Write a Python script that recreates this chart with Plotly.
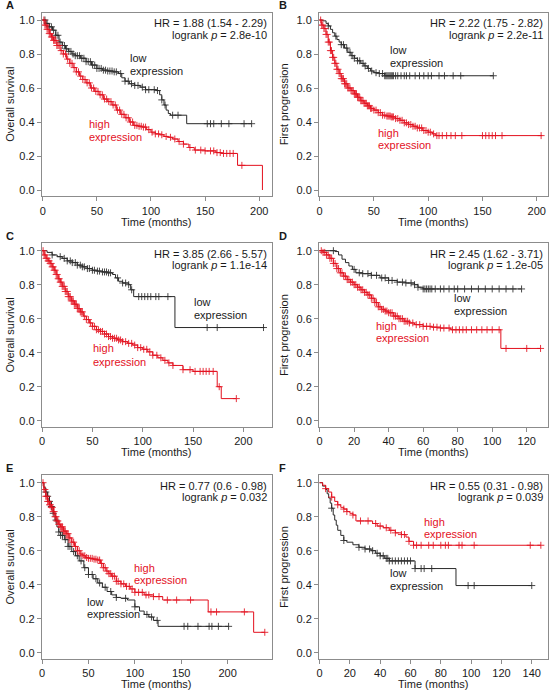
import numpy as np
import plotly.graph_objects as go

W, H = 550, 693
RED = "#e3101e"
BLK = "#2a2a2a"

# ---------------- data ----------------
# Panel A: Overall survival
A_low_t = [0,3,6,9,12,15,18,21,24,27,30,35,40,45,50,55,60,65,70,73,76,80,85,90,95,100,105,108,110,112,114,116,118,133,193]
A_low_s = [1.0,0.98,0.96,0.94,0.91,0.87,0.85,0.83,0.815,0.80,0.79,0.775,0.755,0.735,0.715,0.705,0.70,0.695,0.685,0.66,0.64,0.625,0.615,0.605,0.59,0.59,0.585,0.56,0.53,0.50,0.47,0.45,0.44,0.39,0.39]
A_low_c = [2,4,6,8,10,12,14,16,18,20,22,24,26,28,30,32,34,36,38,40,42,44,46,48,50,52,54,56,58,60,62,64,66,68,72,76,79,82,85,88,92,95,98,103,106,110,113,120,125,152,155,158,165,172,186,193]
A_high_t = [0,2,4,6,8,10,13,16,19,22,25,28,31,34,37,40,44,48,52,56,60,64,68,72,76,80,84,88,92,96,100,104,108,112,116,120,125,130,135,140,150,160,165,180,203]
A_high_s = [1.0,0.97,0.945,0.92,0.90,0.88,0.85,0.82,0.80,0.77,0.745,0.72,0.695,0.67,0.65,0.63,0.60,0.58,0.56,0.535,0.52,0.50,0.47,0.445,0.425,0.40,0.38,0.375,0.37,0.355,0.34,0.33,0.325,0.315,0.31,0.30,0.285,0.27,0.25,0.235,0.23,0.22,0.215,0.145,0.0]
A_high_c = [1,2,3,4,5,6,7,8,9,10,11,12,13,14,15,17,19,21,23,25,27,29,31,33,35,37,39,41,43,45,47,49,51,53,55,57,59,61,63,65,67,69,71,73,75,77,79,81,83,85,87,89,91,93,95,98,101,104,107,110,114,118,122,126,130,136,141,146,150,155,158,161,164,167,170,173,176,184]

# Panel B: First progression
B_low_t = [0,3,6,8,10,12,14,16,18,20,23,26,29,32,35,38,41,44,47,50,55,60,160]
B_low_s = [1.0,0.995,0.98,0.965,0.945,0.925,0.905,0.885,0.87,0.855,0.835,0.81,0.79,0.775,0.76,0.745,0.73,0.715,0.70,0.69,0.685,0.672,0.672]
B_low_c = [8,15,20,22,25,28,30,32,35,37,40,42,45,48,52,55,58,60,61,62,63,64,65,66,67,68,70,72,75,78,80,83,88,92,96,100,103,110,115,123,130,160]
B_high_t = [0,2,4,6,8,10,12,14,16,18,20,23,26,29,32,35,38,41,44,47,50,54,58,62,66,70,74,78,82,86,90,95,100,104,107,205]
B_high_s = [1.0,0.97,0.95,0.915,0.87,0.82,0.78,0.745,0.71,0.685,0.655,0.625,0.60,0.585,0.565,0.545,0.525,0.51,0.495,0.48,0.47,0.455,0.44,0.435,0.43,0.42,0.41,0.395,0.385,0.375,0.365,0.35,0.34,0.33,0.32,0.32]
B_high_c = [1,2,3,4,5,6,7,8,9,10,11,12,13,14,15,16,17,18,19,20,21,22,23,24,25,26,27,28,29,30,31,32,33,34,35,36,37,38,39,40,41,42,43,44,45,46,47,48,50,52,54,56,58,60,62,63,64,65,66,67,68,70,72,74,76,78,80,82,84,86,88,90,92,94,96,98,100,102,105,108,110,113,117,121,125,131,150,153,156,159,162,168,204]

# Panel C: Overall survival
C_low_t = [0,5,10,15,20,25,30,35,40,45,50,55,60,65,70,73,76,80,86,88,91,132,221]
C_low_s = [1.0,0.99,0.975,0.965,0.955,0.94,0.93,0.915,0.905,0.895,0.885,0.88,0.875,0.87,0.86,0.84,0.82,0.81,0.80,0.77,0.73,0.548,0.548]
C_low_c = [10,18,22,25,28,30,33,35,38,40,42,45,47,50,52,55,57,60,62,64,66,68,75,80,83,86,89,96,99,102,105,108,113,116,125,164,174,220]
C_high_t = [0,2,4,6,8,10,12,14,16,18,20,23,26,29,32,35,38,41,44,47,50,54,58,62,66,70,75,80,85,90,95,100,105,110,115,120,125,130,140,150,174,178,193]
C_high_s = [1.0,0.975,0.955,0.94,0.925,0.905,0.885,0.86,0.835,0.815,0.79,0.76,0.73,0.705,0.685,0.66,0.64,0.615,0.595,0.575,0.555,0.535,0.525,0.51,0.495,0.485,0.475,0.465,0.455,0.445,0.43,0.42,0.405,0.385,0.37,0.355,0.34,0.325,0.30,0.29,0.20,0.13,0.13]
C_high_c = [1,2,3,4,5,6,7,8,9,10,11,12,13,14,15,16,17,18,19,20,21,22,23,24,25,26,27,28,29,30,31,32,33,34,35,36,37,38,39,40,42,44,46,48,50,52,54,56,58,60,62,64,66,68,70,72,74,76,78,80,83,86,89,92,95,98,101,104,107,110,114,118,122,126,130,140,147,152,157,160,163,166,170,176,193]

# Panel D: First progression
D_low_t = [0,9,11,13,15,17,19,21,25,30,35,40,45,50,55,57,60,117]
D_low_s = [1.0,0.995,0.975,0.95,0.93,0.91,0.89,0.87,0.865,0.855,0.84,0.825,0.815,0.81,0.80,0.785,0.775,0.775]
D_low_c = [8,20,23,25,28,30,33,36,38,40,42,45,48,50,53,55,57,60,61,62,63,64,65,67,70,72,75,78,80,84,88,92,96,100,104,108,112,117]
D_high_t = [0,2,4,6,8,10,12,14,16,18,20,22,24,26,28,30,32,34,36,38,40,43,46,49,52,55,60,65,70,76,105,128]
D_high_s = [1.0,0.99,0.975,0.955,0.925,0.895,0.87,0.85,0.83,0.815,0.80,0.785,0.77,0.755,0.74,0.72,0.695,0.67,0.655,0.645,0.635,0.615,0.60,0.585,0.575,0.565,0.555,0.55,0.545,0.535,0.425,0.425]
D_high_c = [1,2,3,4,5,6,7,8,9,10,11,12,13,14,15,16,17,18,19,20,21,22,23,24,25,26,27,28,29,30,31,32,33,34,35,36,37,38,39,40,41,42,43,44,45,46,47,48,49,50,51,52,54,56,58,60,62,64,66,68,70,72,75,77,79,81,83,85,88,91,94,97,100,104,108,120,128]

# Panel E: Overall survival
E_low_t = [0,2,4,6,8,10,12,14,16,18,20,24,28,32,36,40,45,50,55,60,65,70,75,80,85,92,100,105,110,115,120,125,201]
E_low_s = [1.0,0.97,0.945,0.92,0.89,0.86,0.82,0.78,0.74,0.71,0.69,0.665,0.625,0.595,0.57,0.54,0.50,0.46,0.435,0.41,0.385,0.36,0.34,0.325,0.32,0.31,0.27,0.245,0.225,0.21,0.19,0.155,0.155]
E_low_c = [4,6,8,10,12,15,18,20,22,25,28,30,34,38,42,46,50,54,58,62,68,74,80,90,100,113,118,124,153,157,168,180,183,190,201]
E_high_t = [0,2,4,6,8,10,12,14,16,18,20,23,26,29,32,35,38,41,44,47,50,55,60,63,66,69,72,75,80,85,90,95,100,110,120,130,179,228,240]
E_high_s = [1.0,0.96,0.92,0.89,0.87,0.855,0.83,0.80,0.775,0.755,0.74,0.715,0.70,0.675,0.65,0.625,0.60,0.58,0.57,0.56,0.555,0.55,0.545,0.525,0.50,0.48,0.465,0.45,0.42,0.405,0.39,0.375,0.355,0.34,0.33,0.31,0.24,0.12,0.12]
E_high_c = [1,2,3,4,5,6,7,8,9,10,11,12,13,14,15,16,17,18,19,20,21,22,23,24,25,26,27,28,29,30,32,34,36,38,40,42,44,46,48,50,52,54,56,58,60,62,64,66,68,70,72,74,76,78,80,82,85,88,91,94,97,100,104,108,112,115,120,126,135,145,160,182,188,218,240]

# Panel F: First progression
F_low_t = [0,2,4,5,6,7,8,9,10,11,12,14,16,18,22,26,30,34,37,40,43,46,63,90,140]
F_low_s = [1.0,0.98,0.96,0.935,0.91,0.88,0.85,0.81,0.78,0.75,0.72,0.69,0.66,0.65,0.635,0.62,0.61,0.60,0.585,0.57,0.555,0.54,0.495,0.395,0.395]
F_low_c = [8,16,26,30,33,35,38,40,42,44,45,46,48,50,52,54,56,58,60,63,67,69,74,98,102,140]
F_high_t = [0,2,4,6,8,10,12,14,16,18,20,22,24,30,35,38,42,46,50,54,57,59,62,146]
F_high_s = [1.0,0.985,0.965,0.945,0.915,0.89,0.87,0.855,0.845,0.83,0.82,0.81,0.775,0.775,0.76,0.745,0.735,0.72,0.705,0.695,0.68,0.655,0.632,0.632]
F_high_c = [4,8,12,16,18,22,27,32,37,40,44,47,50,54,56,59,62,64,67,72,75,80,83,85,92,94,102,139,146]

# Text
letters = ["A","B","C","D","E","F"]
ytitles = ["Overall survival","First progression","Overall survival","First progression","Overall survival","First progression"]
hr_text = ["HR = 1.88 (1.54 - 2.29)","HR = 2.22 (1.75 - 2.82)","HR = 3.85 (2.66 - 5.57)",
           "HR = 2.45 (1.62 - 3.71)","HR = 0.77 (0.6 - 0.98)","HR = 0.55 (0.31 - 0.98)"]
p_text = ["2.8e-10","2.2e-11","1.1e-14","1.2e-05","0.032","0.039"]
xticks = [[0,50,100,150,200],[0,50,100,150,200],[0,50,100,150,200],
          [0,20,40,60,80,100,120],[0,50,100,150,200],[0,20,40,60,80,100,120,140]]
yticks = [0.0,0.2,0.4,0.6,0.8,1.0]

curves = [
    (A_low_t,A_low_s,A_low_c,A_high_t,A_high_s,A_high_c),
    (B_low_t,B_low_s,B_low_c,B_high_t,B_high_s,B_high_c),
    (C_low_t,C_low_s,C_low_c,C_high_t,C_high_s,C_high_c),
    (D_low_t,D_low_s,D_low_c,D_high_t,D_high_s,D_high_c),
    (E_low_t,E_low_s,E_low_c,E_high_t,E_high_s,E_high_c),
    (F_low_t,F_low_s,F_low_c,F_high_t,F_high_s,F_high_c),
]

# ---------------- layout geometry (pixels) ----------------
col_box = [(39.0, 270.0), (317.7, 548.3)]
col_off = [0.0, 275.0]
row_off = [0.0, 230.7, 462.7]
box_top, box_bot = 12.5, 196.3
x0_px = [40.0, 318.3, 39.3, 318.3, 39.3, 318.3]
x_scale = [1.088, 1.092, 1.012, 1.736, 0.933, 1.524]
y_min, y_max = -6.3/170.0, 1.0 + 7.5/170.0

low_pos  = [(126, 58, 71), (386.7, 50, 63), (190, 302, 315), (451.7, 298, 311), (82.7, 601.7, 614.3), (386.7, 573.3, 586)]
high_pos = [(84, 124, 137), (375, 133, 145), (88.3, 348, 362), (372.7, 326, 338), (130, 567.7, 580), (421, 521.7, 534)]

FONT = "Liberation Sans, Arial, Helvetica, sans-serif"
TXT = "#1a1a1a"


def px(xp):
    return xp / W


def py(yp):
    return 1 - yp / H


def step_at(t, s, q):
    t = np.asarray(t, float)
    s = np.asarray(s, float)
    idx = np.searchsorted(t, np.asarray(q, float), side="right") - 1
    idx = np.clip(idx, 0, len(s) - 1)
    return s[idx]


fig = go.Figure()
annotations = []
layout_axes = {}

for i in range(6):
    r, c = divmod(i, 2)
    xa = "x" if i == 0 else f"x{i+1}"
    ya = "y" if i == 0 else f"y{i+1}"
    bl, br = col_box[c]
    bt, bb = box_top + row_off[r], box_bot + row_off[r]
    xmin = (bl - x0_px[i]) / x_scale[i]
    xmax = (br - x0_px[i]) / x_scale[i]
    lt, ls, lc, ht, hs, hc = curves[i]

    for (tt, ss, cc, col) in [(lt, ls, lc, BLK), (ht, hs, hc, RED)]:
        fig.add_trace(go.Scatter(x=tt, y=ss, mode="lines", line=dict(color=col, width=1, shape="hv"),
                                 xaxis=xa, yaxis=ya, showlegend=False, hoverinfo="skip"))
        fig.add_trace(go.Scatter(x=cc, y=step_at(tt, ss, cc), mode="markers",
                                 marker=dict(symbol="cross-thin", size=5, line=dict(color=col, width=1)),
                                 opacity=0.85,
                                 xaxis=xa, yaxis=ya, showlegend=False, hoverinfo="skip"))

    axis_common = dict(showline=True, linecolor="#8c8c8c", linewidth=1, mirror=True,
                       ticks="outside", ticklen=4, tickcolor="#8c8c8c", showgrid=False, zeroline=False,
                       tickfont=dict(family=FONT, size=11, color=TXT))
    layout_axes["xaxis" if i == 0 else f"xaxis{i+1}"] = dict(
        domain=[px(bl), px(br)], range=[xmin, xmax], tickvals=xticks[i],
        anchor=ya, **axis_common)
    layout_axes["yaxis" if i == 0 else f"yaxis{i+1}"] = dict(
        domain=[py(bb), py(bt)], range=[y_min, y_max], tickvals=yticks, tickformat=".1f",
        anchor=xa, **axis_common)

    annotations.append(dict(x=px(col_off[c] + 1), y=py(row_off[r] + 5), xref="paper", yref="paper",
                            text=f"<b>{letters[i]}</b>", showarrow=False, xanchor="left", yanchor="middle",
                            font=dict(family=FONT, size=11, color=TXT)))
    annotations.append(dict(x=px(col_off[c] + 7.5), y=py((bt + bb) / 2), xref="paper", yref="paper",
                            text=ytitles[i], textangle=-90, showarrow=False, xanchor="center", yanchor="middle",
                            font=dict(family=FONT, size=11, color=TXT)))
    annotations.append(dict(x=px((bl + br) / 2), y=py(row_off[r] + 221.5), xref="paper", yref="paper",
                            text="Time (months)", showarrow=False, xanchor="center", yanchor="middle",
                            font=dict(family=FONT, size=11, color=TXT)))
    annotations.append(dict(x=px(br - 3), y=py(row_off[r] + 23), xref="paper", yref="paper",
                            text=hr_text[i], showarrow=False, xanchor="right", yanchor="middle",
                            font=dict(family=FONT, size=11, color=TXT)))
    annotations.append(dict(x=px(br - 3), y=py(row_off[r] + 34.5), xref="paper", yref="paper",
                            text=f"logrank <i>p</i> = {p_text[i]}", showarrow=False, xanchor="right", yanchor="middle",
                            font=dict(family=FONT, size=11, color=TXT)))
    for (pos, col, word) in [(low_pos[i], TXT, "low"), (high_pos[i], RED, "high")]:
        xl, y1, y2 = pos
        annotations.append(dict(x=px(xl), y=py(y1), xref="paper", yref="paper", text=word, showarrow=False,
                                xanchor="left", yanchor="middle", font=dict(family=FONT, size=11, color=col)))
        annotations.append(dict(x=px(xl), y=py(y2), xref="paper", yref="paper", text="expression", showarrow=False,
                                xanchor="left", yanchor="middle", font=dict(family=FONT, size=11, color=col)))

fig.update_layout(width=W, height=H, margin=dict(l=0, r=0, t=0, b=0),
                  paper_bgcolor="white", plot_bgcolor="white",
                  annotations=annotations, **layout_axes)

fig.write_html("out.html", config={"displayModeBar": False},
               post_script="document.body.style.margin='0';document.body.style.overflow='hidden';")
